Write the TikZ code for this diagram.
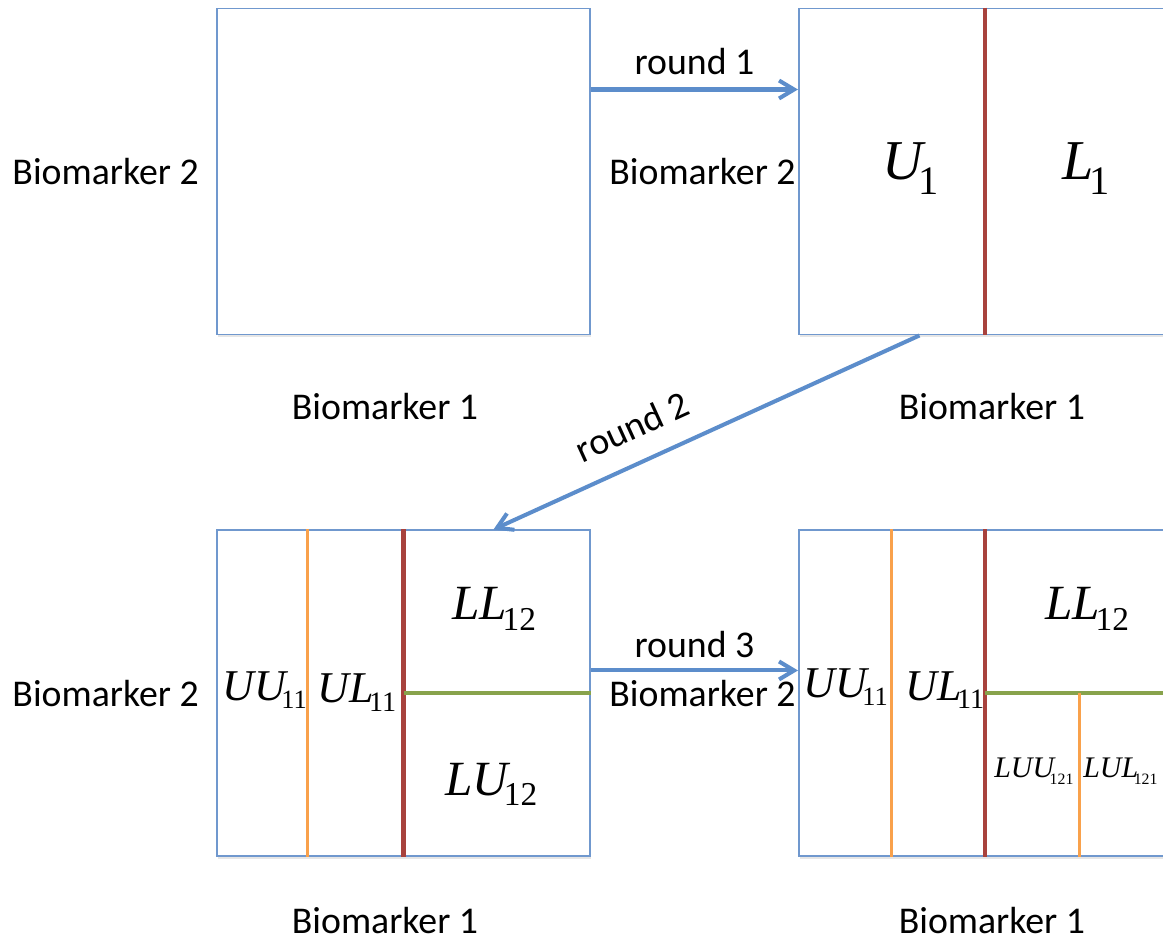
\documentclass[tikz,border=0pt]{standalone}
\usepackage{fontspec}
\setmainfont{Carlito}
\newfontfamily\tms{Liberation Serif}
\usetikzlibrary{arrows.meta}
\usetikzlibrary{calc}
\usetikzlibrary{positioning}
\usetikzlibrary{shadows}

\definecolor{boxblue}{RGB}{112,152,206}
\definecolor{arrowblue}{RGB}{92,141,203}
\definecolor{splitred}{RGB}{168,66,61}
\definecolor{splitorange}{RGB}{249,161,75}
\definecolor{splitgreen}{RGB}{136,163,76}

% region name: letters, subscript, letter size, subscript size, drop
\newcommand{\regname}[5]{{\tms\itshape\fontsize{#3pt}{#3pt}\selectfont #1}\kern-2.5pt\raisebox{-#5pt}{\tms\fontsize{#4pt}{#4pt}\selectfont #2}}

\begin{document}
\begin{tikzpicture}[
    region/.style={draw=boxblue, line width=1.1pt, fill=white,
        minimum width=7.46cm, minimum height=6.52cm, inner sep=0pt,
        drop shadow={opacity=0.2, shadow xshift=0.6pt, shadow yshift=-1.5pt}},
    axis label/.style={inner sep=0pt, text=black, font=\fontsize{21.5pt}{26pt}\selectfont},
    region label/.style={inner sep=0pt, anchor=base west},
    round arrow/.style={-{Straight Barb[length=3mm, width=3.6mm]}, line width=2.3pt, arrowblue},
    cut red/.style={splitred, line width=2.3pt},
    cut orange/.style={splitorange, line width=1.8pt},
    cut green/.style={splitgreen, line width=2.3pt},
    ]
    \useasboundingbox (0,0) rectangle (23.26,18.84);

    % the four rounds
    \node[region] (start) at (8.07,15.41) {};
    \node[region, right=4.14cm of start] (round1) {};
    \node[region, below=3.88cm of start] (round2) {};
    \node[region, right=4.14cm of round2] (round3) {};

    % axis names
    \node[axis label, left=0.34cm of start] (bmy0) {Biomarker 2};
    \node[axis label, left=0.04cm of round1] (bmy1) {Biomarker 2};
    \node[axis label, left=0.34cm of round2] (bmy2) {Biomarker 2};
    \node[axis label, left=0.04cm of round3] (bmy3) {Biomarker 2};
    \node[axis label, below=1.15cm of start, xshift=-0.37cm] (bmx0) {Biomarker 1};
    \node[axis label, below=1.15cm of round1, xshift=0.13cm] (bmx1) {Biomarker 1};
    \node[axis label, below=1.0cm of round2, xshift=-0.37cm] (bmx2) {Biomarker 1};
    \node[axis label, below=1.0cm of round3, xshift=0.13cm] (bmx3) {Biomarker 1};

    % splits
    \draw[cut red] (round1.north) -- (round1.south);

    \draw[cut orange] ($(round2.north west)!0.245!(round2.north east)$)
        -- ($(round2.south west)!0.245!(round2.south east)$);
    \draw[cut red] (round2.north) -- (round2.south);
    \draw[cut green] (round2.center) -- (round2.east);

    \draw[cut orange] ($(round3.north west)!0.25!(round3.north east)$)
        -- ($(round3.south west)!0.25!(round3.south east)$);
    \draw[cut red] (round3.north) -- (round3.south);
    \draw[cut green] (round3.center) -- (round3.east);
    \draw[cut orange] ($(round3.center)!0.5!(round3.east)$)
        -- ($(round3.south)!0.5!(round3.south east)$);

    % region names
    \node[region label] (u1) at (17.64,15.24) {\regname{U}{1}{32}{23}{8}};
    \node[region label] (l1) at (21.24,15.24) {\regname{L}{1}{32}{23}{8}};

    \node[region label] (uu11a) at (4.44,4.84) {\regname{UU}{11}{25}{15}{5}};
    \node[region label] (ul11a) at (6.34,4.78) {\regname{UL}{11}{25}{16}{5}};
    \node[region label] (ll12a) at (9.04,6.44) {\regname{LL}{12}{28}{19}{6}};
    \node[region label] (lu12a) at (8.90,2.94) {\regname{LU}{12}{28}{19}{6}};

    \node[region label] (uu11b) at (16.06,4.90) {\regname{UU}{11}{25}{15}{5}};
    \node[region label] (ul11b) at (18.10,4.84) {\regname{UL}{11}{25}{16}{5}};
    \node[region label] (ll12b) at (20.90,6.44) {\regname{LL}{12}{28}{19}{6}};
    \node[region label] (luu121) at (19.88,3.30) {\regname{LUU}{121}{17}{9}{4}};
    \node[region label] (lul121) at (21.66,3.30) {\regname{LUL}{121}{17}{9}{4}};

    % rounds
    \draw[round arrow] ($(start.north east)!0.5!(start.east)$)
        -- node[axis label, above=7pt] {round 1} ($(round1.north west)!0.5!(round1.west)$);
    \draw[round arrow] ($(round1.south west)!0.324!(round1.south east)$)
        -- node[axis label, pos=0.64, sloped, above=12pt] {round 2} ($(round2.north west)!0.74!(round2.north east)$);
    \draw[round arrow] ($(round2.north east)!0.43!(round2.south east)$)
        -- node[axis label, above=6pt] {round 3} ($(round3.north west)!0.43!(round3.south west)$);
\end{tikzpicture}
\end{document}
